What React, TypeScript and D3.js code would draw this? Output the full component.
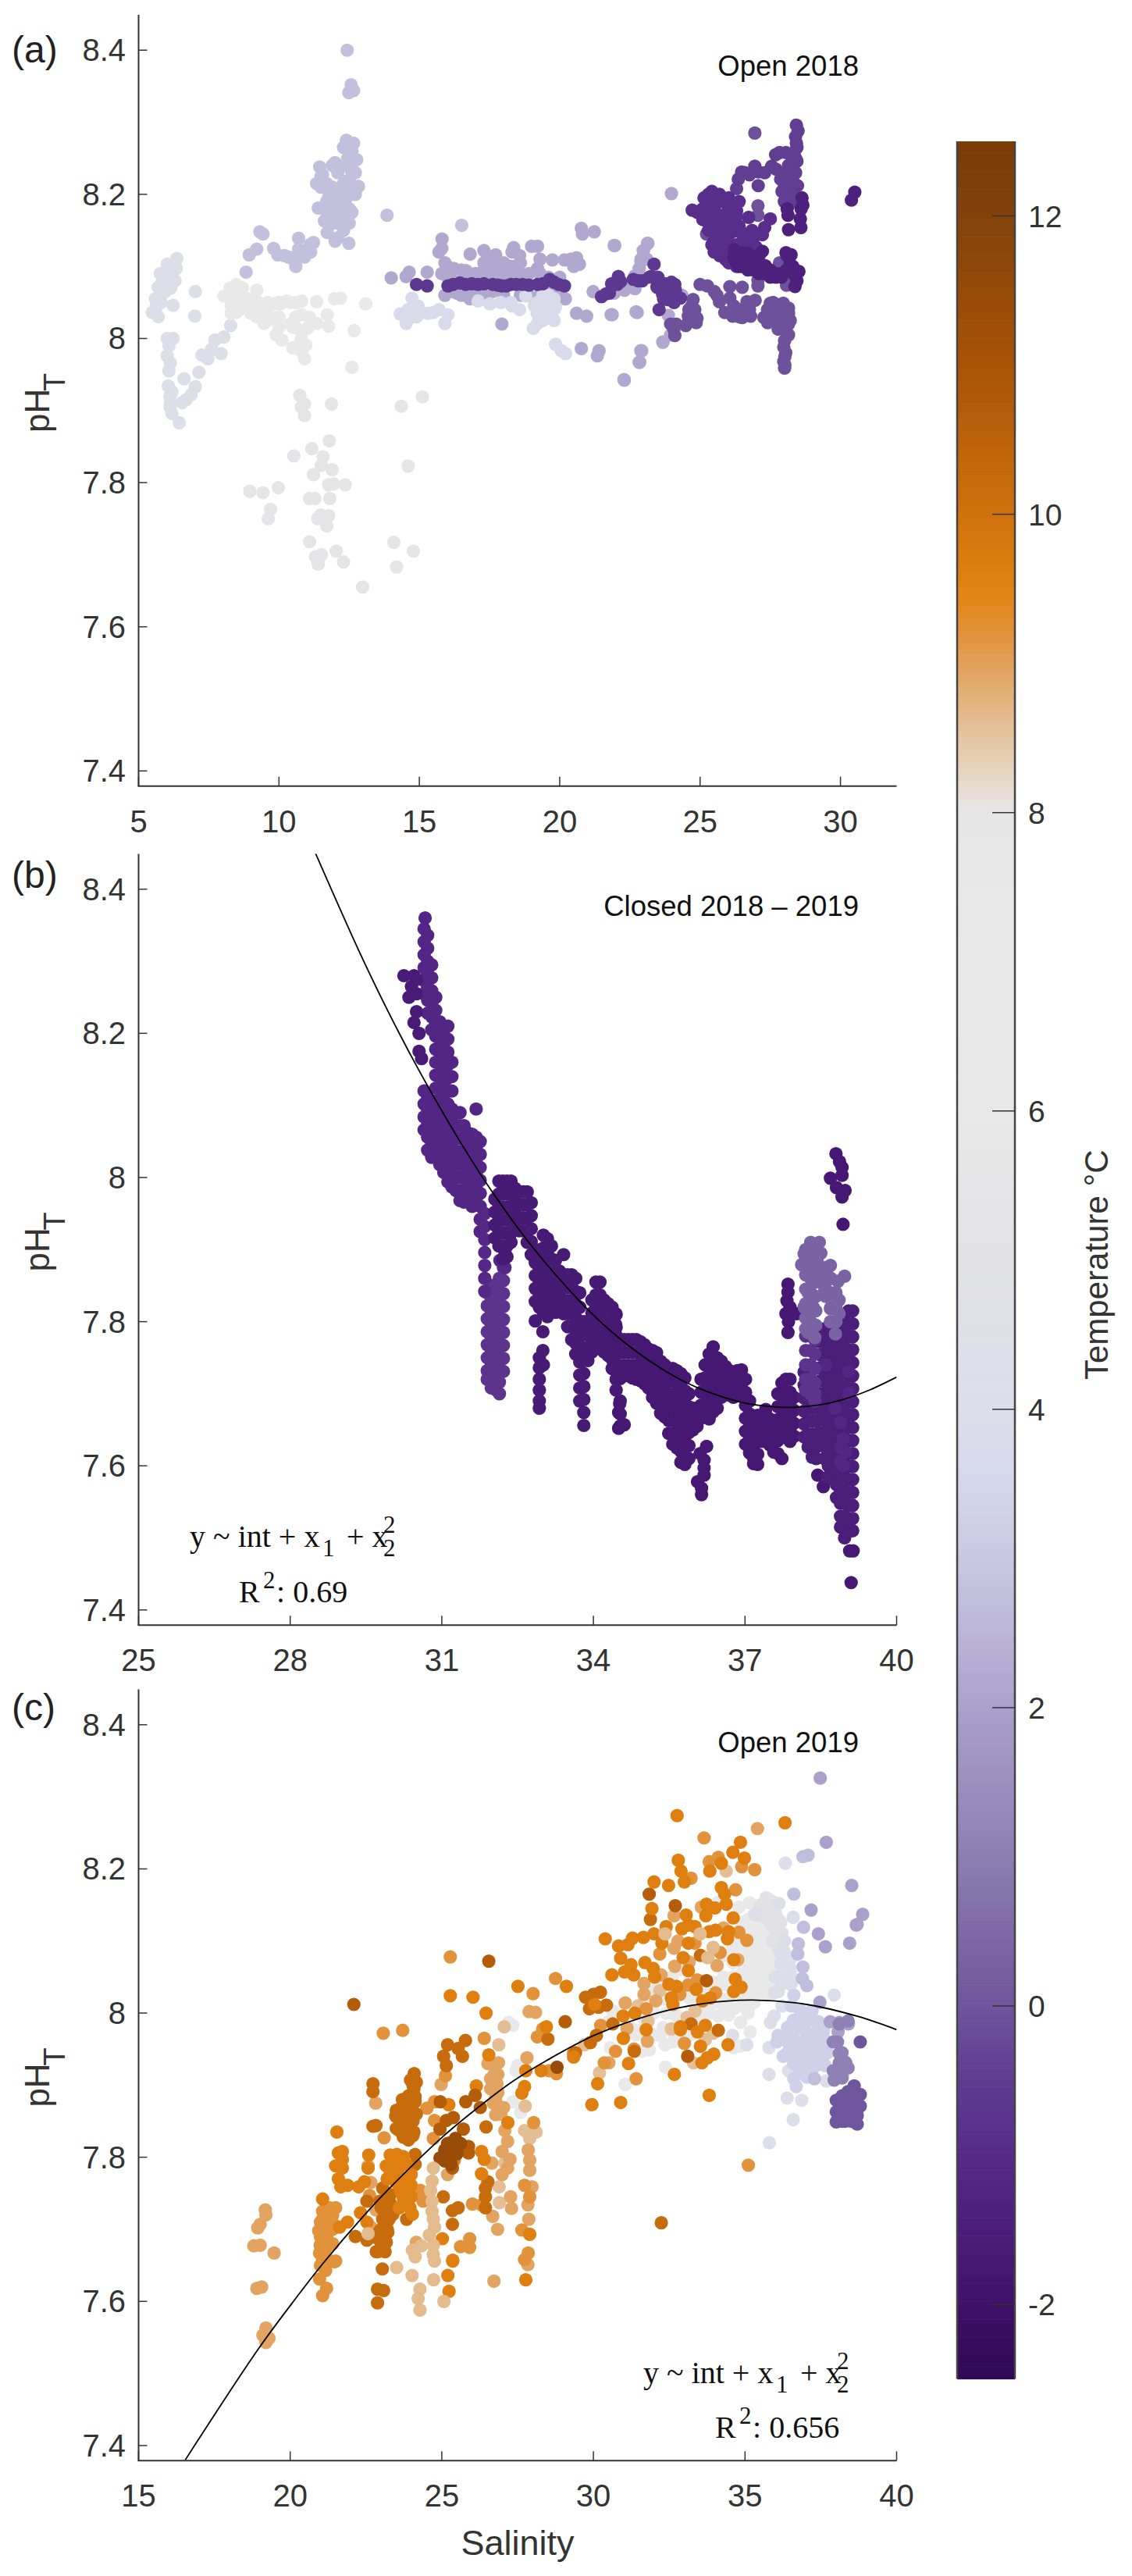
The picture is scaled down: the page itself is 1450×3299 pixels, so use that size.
import React from "react";
import * as d3 from "d3";

type P = [number, number];
type Col = [number, number[]];
const expand = (cols: Col[]): P[] => cols.flatMap(([s, phs]) => phs.map(ph => [s, ph] as P));

// ---------- tick labels ----------
const phTicks = [7.4, 7.6, 7.8, 8, 8.2, 8.4];
const xTicksA = [5, 10, 15, 20, 25, 30];
const xTicksB = [25, 28, 31, 34, 37, 40];
const xTicksC = [15, 20, 25, 30, 35, 40];
const cbTicks = [-2, 0, 2, 4, 6, 8, 10, 12];
const cmapTemps = [-2.5, -2, -1.5, -1, -0.5, 0, 1, 2, 2.5, 3, 3.5, 4, 5, 6, 7, 8, 8.1, 8.5, 9, 9.2, 9.5, 10, 11, 12, 12.5];
const cmapColors = ["#300852", "#3f1068", "#4b1e7a", "#572a8a", "#5f3b91", "#6f559c", "#8d7eb2", "#aba0cb", "#bbb5d8", "#c9c8e2", "#d4d7ec", "#dcdee9", "#e2e2e6", "#e8e8e8", "#e9e9e9", "#e6e6e6", "#e6e0d8", "#e4c6a2", "#e3a05a", "#e2923a", "#e2820f", "#cf720d", "#a85306", "#83420a", "#7a3b08"];

// ---------- curves ----------
const curveB: P[] = [[28.5, 8.45], [29.35, 8.316], [29.94, 8.23], [30.53, 8.151], [31.3, 8.057], [31.95, 7.985], [32.8, 7.903], [33.72, 7.829], [34.31, 7.789], [34.82, 7.76], [35.34, 7.735], [35.85, 7.715], [36.37, 7.7], [36.88, 7.689], [37.4, 7.683], [37.91, 7.681], [38.43, 7.684], [38.94, 7.692], [39.46, 7.705], [40, 7.723]];
const curveC: P[] = [[16.54, 7.38], [18.9, 7.531], [20.0, 7.594], [21.07, 7.652], [22.45, 7.72], [23.3, 7.758], [25.02, 7.828], [26.5, 7.879], [27.37, 7.906], [28.45, 7.934], [30.13, 7.971], [32.1, 8.0], [33.6, 8.013], [35.23, 8.018], [37.03, 8.012], [38.75, 7.995], [40, 7.977]];

// ---------- panel (a) ----------
const aLeft: P[] = [[5.49, 8.036], [5.7, 8.03], [5.64, 8.048], [5.77, 8.09], [5.7, 8.071], [6.02, 8.103], [6.34, 8.097], [6.36, 8.111], [6.23, 8.082], [5.91, 8.078], [6.23, 8.046], [5.8, 8.06], [6.0, 8.09], [6.02, 8.0], [6.23, 8.0], [6.02, 7.976], [6.13, 7.966], [6.06, 7.934], [6.19, 7.926], [6.13, 7.911], [6.19, 7.896], [6.45, 7.883], [6.55, 7.911], [6.62, 7.944], [6.87, 7.922], [7.02, 7.933], [7.15, 7.953], [7.26, 7.977], [7.47, 7.972], [7.72, 7.998], [7.94, 7.979], [8.04, 8.002], [8.28, 8.018], [8.57, 8.059], [7.02, 8.065], [7.0, 8.031]];
const aLeftFill: Col[] = [[5.6, [8.04, 8.055]], [5.8, [8.075, 8.05]], [5.95, [8.09, 8.065]], [6.15, [8.085, 8.1, 8.07]], [6.3, [8.105, 8.08]], [6.08, [7.955, 7.99]], [6.12, [7.92, 7.905]], [6.7, [7.915]], [7.35, [7.975]], [7.6, [7.985]]];
const aGreyMid: P[] = [[8.04, 8.059], [8.26, 8.07], [8.47, 8.075], [8.47, 8.036], [8.68, 8.048], [9.21, 8.067], [9.21, 8.052], [9.53, 8.04], [9.47, 8.021], [9.85, 8.029], [9.81, 8.048], [10.28, 8.052], [10.05, 8.048], [10.81, 8.052], [11.34, 8.051], [11.98, 8.055], [12.19, 8.056], [13.09, 8.048], [11.72, 8.033], [11.77, 8.017], [11.34, 8.021], [11.09, 8.029], [10.81, 8.033], [10.49, 8.016], [11.02, 8.014], [10.11, 7.998], [10.49, 7.987], [10.96, 7.991], [10.81, 7.982], [10.91, 7.972], [12.68, 8.011], [12.6, 7.96], [8.7, 8.07], [8.9, 8.055], [9.0, 8.035], [9.9, 8.005], [10.0, 8.015]];
const aGreyFill: Col[] = [[8.3, [8.055, 8.045, 8.035]], [8.6, [8.065, 8.04]], [8.9, [8.045]], [9.2, [8.045, 8.03]], [9.6, [8.05, 8.025]], [10.0, [8.05, 8.03]], [10.4, [8.05, 8.02]], [10.6, [8.05, 8.03, 8.015]], [10.8, [8.01, 8.0]], [10.7, [7.99]]];
const aGreyLow: P[] = [[10.74, 7.921], [10.91, 7.909], [10.8, 7.905], [10.91, 7.893], [11.87, 7.909], [14.36, 7.906], [15.11, 7.919], [14.6, 7.823], [11.79, 7.858], [11.17, 7.847], [10.53, 7.837], [11.57, 7.836], [11.51, 7.824], [11.23, 7.811], [11.89, 7.818], [11.77, 7.797], [12.36, 7.797], [11.95, 7.798], [8.96, 7.788], [9.43, 7.786], [9.98, 7.793], [11.09, 7.778], [11.28, 7.778], [11.81, 7.778], [9.7, 7.763], [9.62, 7.75], [11.38, 7.75], [11.49, 7.755], [11.77, 7.754], [11.7, 7.74], [11.09, 7.718], [14.09, 7.717], [14.79, 7.705], [12.04, 7.705], [11.3, 7.697], [11.51, 7.7], [11.4, 7.687], [12.3, 7.69], [14.19, 7.683], [12.98, 7.655]];
const aSpike: P[] = [[12.43, 8.4], [12.57, 8.352], [12.66, 8.344], [12.49, 8.341], [12.4, 8.275], [12.66, 8.271], [12.51, 8.257], [12.77, 8.248], [12.0, 8.244], [11.45, 8.238], [12.72, 8.23], [11.55, 8.227], [12.09, 8.234], [12.83, 8.211], [11.34, 8.215], [12.4, 8.215], [11.77, 8.211], [12.72, 8.2], [11.77, 8.196], [12.0, 8.189], [11.4, 8.181], [12.55, 8.177], [11.87, 8.17], [11.62, 8.163], [12.4, 8.167], [11.72, 8.147], [12.0, 8.135], [12.49, 8.132], [12.2, 8.2], [12.45, 8.25], [12.35, 8.19], [13.85, 8.171], [16.51, 8.157], [9.32, 8.148], [9.43, 8.145], [9.21, 8.124], [8.94, 8.116], [8.83, 8.092], [9.81, 8.125], [9.96, 8.116], [10.34, 8.113], [10.7, 8.139], [10.7, 8.124], [10.6, 8.1], [10.91, 8.113], [11.23, 8.133], [11.13, 8.12]];
const aSpikeFill: Col[] = [[11.5, [8.225, 8.21]], [11.7, [8.215, 8.19, 8.175]], [11.9, [8.24, 8.21, 8.19, 8.16]], [12.1, [8.23, 8.205, 8.18, 8.16, 8.14]], [12.3, [8.265, 8.24, 8.215, 8.19, 8.17, 8.15]], [12.5, [8.27, 8.245, 8.22, 8.2, 8.18, 8.16]], [12.6, [8.26, 8.23, 8.2, 8.175]], [10.2, [8.115]], [10.5, [8.11]], [10.85, [8.12]], [11.1, [8.13]]];
const aMidLight: P[] = [[14.32, 8.034], [14.53, 8.021], [14.75, 8.03], [15.06, 8.036], [15.49, 8.036], [16.02, 8.033], [15.91, 8.021], [14.74, 8.056], [14.95, 8.045], [17.09, 8.052], [17.51, 8.048], [18.26, 8.05], [18.79, 8.059], [19.1, 8.045], [19.43, 8.052], [19.53, 8.036], [19.21, 8.021], [19.85, 8.044], [19.85, 7.992], [20.06, 7.983], [20.21, 7.979], [19.4, 8.025], [19.06, 8.014], [18.57, 8.04], [19.6, 8.06], [19.3, 8.035]];
const aMidLightFill: Col[] = [[19.4, [8.06, 8.045, 8.03]], [19.6, [8.05, 8.035]], [19.8, [8.055, 8.04, 8.025]], [19.2, [8.05, 8.035]], [18.3, [8.045]], [17.9, [8.05]], [14.6, [8.03, 8.04]], [15.3, [8.035]], [15.7, [8.04]], [14.9, [8.03]]];
const aMidMedium: P[] = [[14.53, 8.086], [17.3, 8.122], [17.72, 8.116], [18.36, 8.126], [19.0, 8.128], [19.21, 8.128], [16.81, 8.117], [15.81, 8.138], [15.7, 8.12], [15.91, 8.105], [16.23, 8.097], [16.66, 8.094], [17.3, 8.105], [17.62, 8.097], [18.15, 8.101], [18.57, 8.115], [17.19, 8.082], [17.75, 8.085], [18.26, 8.086], [16.87, 8.063], [17.1, 8.067], [17.5, 8.082], [16.34, 8.063], [15.91, 8.06], [19.21, 8.097], [20.6, 8.112], [19.74, 8.109], [20.17, 8.109], [20.7, 8.103], [20.77, 8.153], [20.81, 8.145], [21.23, 8.148], [21.94, 8.129], [23.13, 8.132], [22.98, 8.122], [22.83, 8.097], [14.0, 8.084], [14.64, 8.092], [15.28, 8.092], [18.5, 8.09], [17.94, 8.02], [20.6, 8.035], [20.96, 8.031], [21.83, 8.033], [22.72, 8.037], [20.77, 7.986], [21.4, 7.983], [21.34, 7.976], [22.3, 7.942], [22.89, 7.983], [22.83, 7.967], [23.68, 7.995], [21.19, 8.065], [20.2, 8.055], [21.96, 8.129], [23.14, 8.132], [22.98, 8.122], [22.89, 8.107], [23.1, 8.11], [22.68, 8.087], [22.31, 8.067], [22.68, 8.069], [21.94, 8.063], [23.98, 8.201], [22.76, 8.036], [21.87, 8.033], [23.87, 8.032], [23.95, 8.005], [23.67, 7.995], [22.92, 7.983], [22.85, 7.967], [22.29, 7.943], [24.35, 8.06]];
const aMidMediumFill: Col[] = [[15.8, [8.125, 8.09]], [16, [8.1, 8.085]], [16.2, [8.095, 8.08, 8.065]], [16.5, [8.095, 8.08, 8.06]], [16.8, [8.09, 8.07, 8.055]], [17, [8.09, 8.06]], [17.3, [8.095, 8.065, 8.055]], [17.6, [8.11, 8.09, 8.065]], [17.8, [8.105, 8.085]], [18, [8.105, 8.09, 8.06]], [18.3, [8.12, 8.1, 8.09]], [18.6, [8.105, 8.09, 8.06]], [18.9, [8.09, 8.06]], [19.3, [8.11, 8.09, 8.06]], [19.6, [8.085, 8.065]], [20, [8.06, 8.085]], [20.4, [8.11]], [20.5, [8.1]], [22.5, [8.075]], [22.9, [8.11]]];
const aChain: P[] = [[14.9, 8.075], [15.28, 8.073], [16.02, 8.073], [16.45, 8.077], [16.87, 8.076], [17.09, 8.075], [17.62, 8.075], [17.94, 8.073], [18.26, 8.075], [18.68, 8.075], [19.21, 8.075], [19.64, 8.082], [19.96, 8.075], [20.17, 8.073], [21.49, 8.058], [21.77, 8.063], [22.09, 8.086], [22.05, 8.075], [22.62, 8.082], [22.94, 8.08], [23.36, 8.103], [23.26, 8.086], [23.47, 8.071], [23.19, 8.085], [22.17, 8.079], [21.85, 8.076], [23.47, 8.072], [23.75, 8.076], [23.98, 8.078], [23.66, 8.062], [24.12, 8.067], [23.84, 8.054], [24.07, 8.05], [24.3, 8.056], [23.54, 8.04]];
const aChainFill: Col[] = [[16.2, [8.075]], [16.65, [8.075]], [17.3, [8.076]], [17.8, [8.074]], [18.1, [8.073]], [18.45, [8.075]], [18.9, [8.074]], [19.4, [8.076]], [19.8, [8.078]], [23.7, [8.07, 8.055]], [23.9, [8.065, 8.055]], [24.1, [8.06, 8.075]], [23.5, [8.085]], [21.65, [8.062]], [22.8, [8.08]]];
const aLowerBand: P[] = [[24.75, 8.054], [24.81, 8.04], [24.58, 8.031], [24.89, 8.028], [24.49, 8.018], [24.86, 8.022], [23.95, 8.02], [24.15, 8.02], [24.07, 8.013], [24.1, 8.004], [25.0, 8.075], [25.26, 8.073], [25.51, 8.065], [25.69, 8.051], [26.06, 8.072], [26.5, 8.071], [26.06, 8.056], [25.88, 8.036], [26.16, 8.031], [26.3, 8.038], [26.67, 8.051], [26.96, 8.053], [26.5, 8.029], [26.8, 8.031], [26.76, 8.04], [27.5, 8.049], [27.96, 8.049], [28.15, 8.042], [27.27, 8.029], [27.41, 8.022], [27.69, 8.033], [28.21, 8.025], [27.78, 8.013], [28.1, 8.007], [28.01, 7.997], [27.98, 7.988], [28.05, 7.98], [27.98, 7.968], [28.01, 7.959], [27.06, 8.081], [27.06, 8.073], [28.08, 8.074], [27.83, 8.105], [27.06, 8.184], [27.06, 8.171], [25.23, 8.145], [26.95, 8.285], [27.75, 8.025], [27.9, 8.035]];
const aLowerFill: Col[] = [[27.4, [8.04, 8.03]], [27.6, [8.05, 8.035, 8.025]], [27.8, [8.04, 8.03, 8.02]], [28.0, [8.045, 8.03, 8.015]], [28.15, [8.035, 8.02, 8.005]], [26.2, [8.045, 8.035]], [26.4, [8.04, 8.03]], [26.7, [8.045, 8.035]], [25.6, [8.06]], [24.7, [8.045, 8.03]], [24.6, [8.04, 8.025]], [24.8, [8.03]], [28.02, [7.975, 7.963]]];
const aUpperRight: P[] = [[28.43, 8.296], [28.49, 8.288], [28.43, 8.271], [28.45, 8.265], [28.35, 8.258], [28.06, 8.258], [27.83, 8.258], [27.69, 8.255], [28.45, 8.246], [27.55, 8.239], [26.95, 8.239], [27.08, 8.231], [26.48, 8.231], [26.76, 8.227], [26.36, 8.221], [27.07, 8.212], [26.3, 8.208], [28.24, 8.231], [27.87, 8.221], [28.2, 8.219], [28.47, 8.212], [27.92, 8.204], [28.15, 8.202], [28.29, 8.192], [27.7, 8.235], [28.05, 8.22], [28.3, 8.25]];
const aUpperFill: Col[] = [[28.0, [8.23, 8.21, 8.19]], [28.15, [8.24, 8.22, 8.2, 8.185]], [28.3, [8.22, 8.2]], [28.4, [8.28, 8.25, 8.23]], [26.6, [8.23]], [27.3, [8.23]]];
const aCluster: P[] = [[26.73, 8.168], [27.5, 8.166], [27.3, 8.154], [27.22, 8.144], [25.42, 8.204], [25.14, 8.195], [25.69, 8.2], [25.37, 8.192], [26.02, 8.195], [26.39, 8.19], [24.72, 8.178], [25.0, 8.177], [25.46, 8.177], [25.93, 8.174], [26.3, 8.177], [25.14, 8.166], [25.56, 8.166], [25.83, 8.159], [26.39, 8.156], [26.85, 8.15], [25.65, 8.145], [26.11, 8.147], [26.57, 8.145], [25.42, 8.13], [25.74, 8.13], [25.69, 8.119], [25.92, 8.116], [26.11, 8.127], [26.76, 8.134], [26.99, 8.127], [26.02, 8.105], [26.3, 8.11], [26.8, 8.12], [25.3, 8.15], [25.55, 8.135], [25.9, 8.14]];
const aClusterFill: Col[] = [[24.9, [8.175]], [25.1, [8.18, 8.165]], [25.3, [8.2, 8.18, 8.16]], [25.5, [8.2, 8.18, 8.16, 8.135, 8.12]], [25.7, [8.19, 8.17, 8.15, 8.135, 8.115]], [25.9, [8.19, 8.16, 8.14, 8.125, 8.11]], [26.1, [8.185, 8.16, 8.15, 8.13, 8.11]], [26.3, [8.17, 8.15, 8.13, 8.11, 8.1]], [26.5, [8.145, 8.13]], [26.7, [8.14, 8.125]], [26.9, [8.14, 8.12]]];
const aDark: P[] = [[28.63, 8.195], [28.66, 8.185], [28.1, 8.18], [28.13, 8.171], [28.57, 8.166], [28.59, 8.154], [28.15, 8.151], [30.51, 8.203], [30.39, 8.192], [28.6, 8.18], [26.23, 8.123], [26.2, 8.112], [26.48, 8.119], [26.71, 8.118], [27.22, 8.121], [26.39, 8.1], [26.67, 8.103], [26.95, 8.105], [27.04, 8.094], [27.32, 8.101], [27.5, 8.094], [27.78, 8.089], [28.06, 8.119], [28.24, 8.116], [28.2, 8.103], [28.06, 8.094], [28.52, 8.093], [28.29, 8.094], [28.45, 8.08], [28.38, 8.072], [27.2, 8.098], [27.95, 8.09]];
const aDarkFill: Col[] = [[26.3, [8.12, 8.105]], [26.5, [8.115, 8.1]], [26.7, [8.115, 8.1, 8.095]], [26.9, [8.11, 8.095]], [27.1, [8.115, 8.1, 8.09]], [27.3, [8.1, 8.09]], [27.5, [8.095, 8.085]], [27.7, [8.09, 8.085]], [27.9, [8.09, 8.085]], [28.1, [8.115, 8.095]], [28.3, [8.1, 8.09]]];

// ---------- panel (b) ----------
const bLeftDots: P[] = [[30.25, 8.28], [30.45, 8.28], [30.5, 8.275], [30.4, 8.265], [30.35, 8.25], [30.5, 8.255], [30.5, 8.23], [30.45, 8.215], [30.55, 8.2], [30.55, 8.175], [30.6, 8.165]];
const bSpikeCols: Col[] = [
  [30.67, [8.36]], [30.65, [8.345, 8.327, 8.309, 8.291, 8.273, 8.255, 8.12, 8.102, 8.084, 8.066]],
  [30.72, [8.336, 8.318, 8.3, 8.282, 8.264, 8.246, 8.228, 8.11, 8.092, 8.074, 8.056, 8.038]],
  [30.8, [8.295, 8.277, 8.259, 8.241, 8.223, 8.205, 8.1, 8.082, 8.064, 8.046, 8.028]],
  [30.88, [8.25, 8.232, 8.214, 8.196, 8.178, 8.16, 8.142, 8.124, 8.106, 8.088, 8.07, 8.052, 8.034]],
  [30.96, [8.216, 8.198, 8.18, 8.162, 8.144, 8.126, 8.108, 8.09, 8.072, 8.054, 8.036, 8.018]],
  [31.04, [8.205, 8.187, 8.169, 8.151, 8.133, 8.115, 8.097, 8.079, 8.061, 8.043, 8.025, 8.007]],
  [31.12, [8.21, 8.192, 8.174, 8.156, 8.138, 8.12, 8.102, 8.084, 8.066, 8.048, 8.03, 8.012, 7.994]],
  [31.2, [8.16, 8.14, 8.12, 8.095, 8.077, 8.059, 8.041, 8.023, 8.005, 7.987]],
  [31.28, [8.09, 8.072, 8.054, 8.036, 8.018, 8, 7.982]],
  [31.36, [8.09, 8.072, 8.054, 8.036, 8.018, 8, 7.982, 7.968]],
  [31.44, [8.072, 8.054, 8.036, 8.018, 8, 7.982, 7.966]],
  [31.52, [8.062, 8.044, 8.026, 8.008, 7.99, 7.972]],
  [31.6, [8.06, 8.042, 8.024, 8.006, 7.988, 7.97, 7.96]],
  [31.68, [8.095, 8.056, 8.038, 8.02, 8.002, 7.984, 7.966]],
  [31.76, [8.05, 8.032, 8.014, 7.996, 7.978, 7.96, 7.942, 7.925]],
];
const bColTop32: Col[] = [[31.85, [7.95, 7.932, 7.914, 7.896, 7.878, 7.86, 7.842]], [32.15, [7.885]], [32.25, [7.895, 7.875]]];
const bCol32: Col[] = [
  [31.9, [7.84, 7.822, 7.804, 7.786, 7.768, 7.75, 7.732, 7.72]],
  [31.98, [7.85, 7.832, 7.814, 7.796, 7.778, 7.76, 7.742, 7.724, 7.708]],
  [32.06, [7.85, 7.832, 7.814, 7.796, 7.778, 7.76, 7.742, 7.724, 7.706]],
  [32.14, [7.86, 7.842, 7.824, 7.806, 7.788, 7.77, 7.752, 7.734, 7.716, 7.7]],
  [32.22, [7.875, 7.857, 7.839, 7.821, 7.803, 7.785, 7.767, 7.749, 7.731]],
];
const bBandCols: Col[] = [
  [32.05, [7.97, 7.952, 7.934, 7.916]], [32.13, [7.995, 7.977, 7.959, 7.941, 7.923, 7.905]], [32.21, [7.995, 7.977, 7.959, 7.941, 7.923, 7.905, 7.887]],
  [32.29, [7.995, 7.977, 7.959, 7.941, 7.923, 7.905, 7.89]], [32.37, [7.995, 7.977, 7.959, 7.941, 7.923, 7.91]], [32.45, [7.985, 7.967, 7.949, 7.931]],
  [32.53, [7.98, 7.962, 7.944, 7.926]], [32.61, [7.98, 7.962, 7.944, 7.926]], [32.69, [7.98, 7.962, 7.944, 7.926, 7.91]], [32.77, [7.965, 7.947, 7.929, 7.911, 7.893]],
  [32.85, [7.9, 7.882, 7.864, 7.846, 7.828, 7.801]], [32.93, [7.89, 7.872, 7.854, 7.836, 7.82, 7.75, 7.736, 7.72, 7.705, 7.69, 7.68]], [33.0, [7.786, 7.76]],
  [33.01, [7.92, 7.902, 7.884, 7.866, 7.848, 7.83, 7.812, 7.74]], [33.09, [7.915, 7.897, 7.879, 7.861, 7.843, 7.825, 7.807]], [33.17, [7.905, 7.887, 7.869, 7.851, 7.833, 7.815]],
  [33.25, [7.885, 7.867, 7.849, 7.831, 7.813]], [33.33, [7.87, 7.852, 7.834, 7.82]], [33.41, [7.893, 7.865, 7.847, 7.829, 7.811]], [33.49, [7.865, 7.847, 7.829, 7.811, 7.793]],
  [33.57, [7.865, 7.847, 7.829, 7.811, 7.793, 7.775]], [33.65, [7.86, 7.842, 7.824, 7.806, 7.788, 7.77, 7.755]], [33.73, [7.84, 7.82, 7.8, 7.78, 7.762, 7.744, 7.726, 7.708, 7.69]],
  [33.81, [7.8, 7.782, 7.764, 7.746, 7.728, 7.71, 7.692, 7.674, 7.656]], [33.89, [7.8, 7.782, 7.764, 7.746]], [33.97, [7.83, 7.812, 7.794, 7.776, 7.758]],
  [34.05, [7.855, 7.837, 7.819, 7.801, 7.783, 7.765]], [34.13, [7.855, 7.837, 7.819, 7.801, 7.783, 7.765]], [34.21, [7.83, 7.812, 7.794, 7.776, 7.758]],
  [34.29, [7.825, 7.807, 7.789, 7.771, 7.753]], [34.37, [7.82, 7.802, 7.784, 7.766, 7.748, 7.735]], [34.45, [7.81, 7.792, 7.774, 7.756, 7.738, 7.72, 7.705]],
];
const bStreamCols: Col[] = [
  [34.53, [7.775, 7.757, 7.739, 7.721, 7.69, 7.672, 7.655]], [34.61, [7.775, 7.757, 7.739, 7.725, 7.657]], [34.69, [7.775, 7.757, 7.739, 7.725]], [34.77, [7.775, 7.757, 7.739, 7.722]],
  [34.85, [7.775, 7.757, 7.739, 7.72]], [34.93, [7.772, 7.754, 7.736, 7.718]], [35.01, [7.768, 7.75, 7.732, 7.714]], [35.09, [7.762, 7.744, 7.726, 7.708]],
  [35.17, [7.76, 7.742, 7.724, 7.706, 7.695]], [35.25, [7.757, 7.739, 7.721, 7.703, 7.687]], [35.33, [7.745, 7.727, 7.709, 7.691, 7.673]], [35.41, [7.74, 7.722, 7.704, 7.686, 7.668]],
  [35.49, [7.735, 7.717, 7.699, 7.681, 7.663, 7.645]], [35.57, [7.735, 7.717, 7.699, 7.681, 7.663, 7.645, 7.63]], [35.65, [7.732, 7.714, 7.696, 7.678, 7.66, 7.642, 7.625]],
  [35.73, [7.728, 7.71, 7.692, 7.674, 7.656, 7.638, 7.62, 7.605]], [35.81, [7.722, 7.704, 7.686, 7.668, 7.65, 7.632, 7.614, 7.602]], [35.89, [7.7, 7.682, 7.664, 7.646, 7.628, 7.61]],
  [35.97, [7.68, 7.665, 7.65]], [36.05, [7.68, 7.665, 7.655]], [36.13, [7.72, 7.702, 7.684, 7.666]], [36.21, [7.74, 7.722, 7.704, 7.686, 7.668]],
  [36.29, [7.755, 7.737, 7.719, 7.701, 7.683, 7.665]], [36.37, [7.765, 7.747, 7.729, 7.711, 7.693, 7.675]], [36.45, [7.75, 7.732, 7.714, 7.696, 7.68]], [36.53, [7.745, 7.727, 7.709, 7.695]],
  [36.61, [7.738, 7.72, 7.702]], [36.69, [7.732, 7.714, 7.698]], [36.77, [7.73, 7.712, 7.695]], [36.85, [7.732, 7.714, 7.697]], [36.93, [7.733, 7.715, 7.697]],
  [37.01, [7.72, 7.702, 7.684, 7.666, 7.648, 7.63]], [37.09, [7.69, 7.672, 7.654, 7.636, 7.618]], [37.17, [7.665, 7.647, 7.629, 7.611, 7.603]], [37.25, [7.67, 7.652, 7.634, 7.616, 7.602]],
  [37.33, [7.67, 7.652, 7.634]], [37.41, [7.678, 7.66, 7.642]], [37.49, [7.665, 7.647, 7.629]], [37.57, [7.655, 7.637, 7.619]], [37.65, [7.7, 7.682, 7.664, 7.635, 7.617]],
  [37.73, [7.715, 7.697, 7.679, 7.661, 7.643, 7.61]], [37.81, [7.72, 7.702, 7.684, 7.666, 7.648]], [37.89, [7.72, 7.702, 7.684, 7.666, 7.648, 7.634]], [37.97, [7.695, 7.677, 7.659, 7.641]],
];
const bIslands: P[] = [[37.85, 7.852], [37.85, 7.841], [37.83, 7.829], [37.81, 7.811], [38.02, 7.811], [37.86, 7.8], [37.85, 7.785], [37.89, 7.82], [37.93, 7.811], [36.24, 7.627], [36.11, 7.617], [36.19, 7.608], [36.19, 7.597], [36.19, 7.587], [36.06, 7.578], [36.14, 7.569], [36.14, 7.56], [34.44, 7.811], [34.44, 7.796], [34.44, 7.782], [34.52, 7.686], [34.5, 7.674], [34.59, 7.657], [34.5, 7.652], [38.8, 8.033], [38.87, 8.022], [38.92, 8.014], [38.92, 8.003], [38.69, 7.999], [38.81, 7.986], [38.98, 7.982], [38.92, 7.973], [38.94, 7.935], [38.44, 7.587], [38.55, 7.571], [39.07, 7.482], [39.14, 7.482], [39.1, 7.438]];
const bBigCols: Col[] = [
  [38.17, [7.73, 7.712, 7.694, 7.676, 7.658, 7.64]], [38.25, [7.68, 7.662, 7.644, 7.626]], [38.33, [7.68, 7.662, 7.644, 7.626, 7.612]], [38.41, [7.68, 7.662, 7.644, 7.626, 7.61]],
  [38.49, [7.79, 7.772, 7.754, 7.736, 7.718, 7.7, 7.682, 7.664, 7.646, 7.628]], [38.57, [7.79, 7.772, 7.754, 7.736, 7.718, 7.7, 7.682, 7.664, 7.646, 7.628, 7.61]],
  [38.65, [7.78, 7.762, 7.744, 7.726, 7.708, 7.69, 7.672, 7.654, 7.636, 7.618, 7.6, 7.585]], [38.73, [7.78, 7.762, 7.744, 7.726, 7.708, 7.69, 7.672, 7.654, 7.636, 7.618, 7.6, 7.582]],
  [38.81, [7.79, 7.772, 7.754, 7.736, 7.718, 7.7, 7.682, 7.664, 7.646, 7.628, 7.61, 7.592, 7.574, 7.556]],
  [38.89, [7.8, 7.782, 7.764, 7.746, 7.728, 7.71, 7.692, 7.674, 7.656, 7.638, 7.62, 7.602, 7.584, 7.566, 7.548, 7.53, 7.515]],
  [38.97, [7.8, 7.782, 7.764, 7.746, 7.728, 7.71, 7.692, 7.674, 7.656, 7.638, 7.62, 7.602, 7.584, 7.566, 7.548, 7.53, 7.512, 7.5]],
  [39.05, [7.815, 7.797, 7.779, 7.761, 7.743, 7.725, 7.707, 7.689, 7.671, 7.653, 7.635, 7.617, 7.599, 7.581, 7.563, 7.545, 7.527, 7.509]],
  [39.13, [7.815, 7.797, 7.779, 7.761, 7.743, 7.725, 7.707, 7.689, 7.671, 7.653, 7.635, 7.617, 7.599, 7.581, 7.563, 7.545, 7.527, 7.51]],
];
const bMidDark: P[] = [[39.05, 7.731], [39.05, 7.7], [38.89, 7.66], [38.94, 7.637], [38.99, 7.619], [38.89, 7.605], [38.95, 7.6], [38.9, 7.625], [38.78, 7.68], [38.6, 7.74]];
const bPatchCols: Col[] = [[38.2, [7.78, 7.76, 7.74, 7.72, 7.705]], [38.3, [7.78, 7.76, 7.74, 7.72, 7.7]], [38.38, [7.775, 7.755, 7.735, 7.715, 7.7, 7.69]]];
const bLight: P[] = [[38.17, 7.894], [38.38, 7.892], [38.45, 7.895], [38.12, 7.879], [38.25, 7.881], [38.43, 7.883], [38.69, 7.878], [38.27, 7.865], [38.5, 7.861], [38.97, 7.863], [38.84, 7.856], [38.25, 7.84], [38.58, 7.843], [38.74, 7.838], [38.86, 7.83], [38.17, 7.82], [38.35, 7.82], [38.69, 7.818], [38.86, 7.811], [38.25, 7.785], [38.69, 7.8], [38.79, 7.783], [38.3, 7.8], [38.38, 7.778], [38.2, 7.9], [38.3, 7.91], [38.47, 7.91]];
const bLightCols: Col[] = [[38.2, [7.885, 7.865, 7.845, 7.825, 7.805, 7.79]], [38.3, [7.9, 7.88, 7.86, 7.84, 7.82, 7.785]], [38.4, [7.895, 7.875, 7.855, 7.835, 7.815, 7.795]], [38.5, [7.895, 7.875, 7.855]], [38.6, [7.875, 7.855, 7.835]], [38.7, [7.86, 7.84, 7.82]], [38.8, [7.84, 7.82, 7.8]]];

// ---------- panel (c) ----------
const cT7: P[] = [[30.64, 8.003], [30.51, 7.988], [31.29, 7.978], [31.54, 7.976], [32.19, 7.969], [32.36, 7.956], [32.62, 7.96], [30.56, 7.952], [31.59, 7.947], [31.84, 7.949], [32.38, 7.925], [31.05, 7.901], [32.75, 7.996], [32.4, 8.0], [33.95, 8.014], [34.29, 8.01], [34.63, 8.006], [35.15, 8.01], [34.46, 7.997], [34.12, 7.996], [34.85, 7.987], [35.17, 7.974], [34.85, 7.954], [34.63, 7.952], [32.14, 8.039], [33.95, 8.043], [34.29, 8.05], [34.46, 8.039], [34.89, 8.05], [35.23, 8.043], [35.49, 8.043], [35.66, 8.035], [35.83, 8.05], [35.41, 8.068], [34.98, 8.071], [35.23, 8.086], [35.49, 8.09], [35.75, 8.093], [36.01, 8.087], [34.76, 8.097], [35.15, 8.111], [35.45, 8.108], [35.79, 8.071], [35.15, 8.057], [35.58, 8.057], [35.23, 8.028], [34.98, 8.028], [35.15, 8.153], [35.81, 8.156], [35.96, 8.124], [34.93, 8.126], [34.8, 8.147], [35.83, 8.111], [35.75, 8.118], [34.12, 8.154], [33.69, 8.003], [33.43, 7.988], [34.89, 8.079], [35.32, 8.071], [35.66, 8.075], [35.92, 8.061], [35.32, 8.05], [35.75, 8.039], [34.8, 8.03], [34.46, 8.021], [34.12, 8.021], [27.34, 7.983], [27.21, 7.987], [27.5, 7.927], [27.45, 7.92], [27.34, 7.877], [27.6, 7.862]];
const cT7Fill: Col[] = [[34.9, [8.12, 8.1, 8.085, 8.07, 8.055, 8.04, 8.025, 8.01]], [35.1, [8.13, 8.1, 8.085, 8.07, 8.04, 8.025, 8.0]], [35.3, [8.12, 8.105, 8.09, 8.075, 8.06, 8.045, 8.03, 8.015]], [35.5, [8.12, 8.105, 8.075, 8.06, 8.03]], [35.7, [8.11, 8.09, 8.06, 8.045, 8.025]], [35.9, [8.1, 8.08, 8.065, 8.045]], [34.6, [8.09, 8.07, 8.05, 8.03]], [34.3, [8.08, 8.04, 8.0]], [33.8, [8.04, 8.02, 8.0]], [33.5, [8.03, 8.0, 7.98]], [33.2, [8.05, 8.02, 7.99, 7.97]], [32.9, [8.06, 8.03, 7.99, 7.96]], [32.6, [8.05, 8.02, 8.0, 7.975]], [32.3, [8.05, 8.02, 7.98]], [32, [8.03, 8.0, 7.97]], [31.7, [8.02, 7.99]], [31.4, [8.0, 7.97]]];
const cT5: P[] = [[35.71, 8.133], [36.01, 8.138], [36.18, 8.126], [35.85, 8.125], [36.22, 8.111], [36.0, 8.115]];
const cT5Fill: Col[] = [[35.9, [8.14, 8.12, 8.1, 8.155]], [36.1, [8.13, 8.1, 8.09]], [35.5, [8.135, 8.15]], [35.7, [8.145, 8.16]]];
const cT4: P[] = [[36.12, 8.152], [35.32, 8.137], [36.59, 8.133], [36.33, 8.208], [37.94, 8.025], [36.18, 8.082], [36.39, 8.079], [36.48, 8.062], [36.18, 8.068], [36.22, 8.041], [36.52, 8.041], [35.96, 8.028], [36.22, 8.01], [35.84, 7.987], [35.96, 7.996], [35.79, 7.952], [35.79, 7.915], [34.59, 7.969], [35.06, 7.956], [36.39, 7.882], [36.87, 7.879], [37.68, 7.906], [36.44, 7.92], [35.8, 7.82], [36.59, 7.852]];
const cT4Fill: Col[] = [[36.3, [8.1, 8.085, 8.07, 8.05]], [36.5, [8.075, 8.055, 8.04]], [36.1, [8.05, 8.03]], [36.0, [8.05]]];
const cT33: P[] = [[36.91, 8.001], [37.21, 8.003], [37.42, 7.988], [37.04, 7.988], [36.52, 7.983], [36.09, 7.969], [36.05, 7.96], [36.35, 7.967], [36.69, 7.96], [37.04, 7.967], [37.38, 7.96], [37.59, 7.976], [37.64, 7.956], [36.52, 7.945], [36.87, 7.941], [37.29, 7.945], [37.72, 7.945], [36.26, 7.94], [36.65, 7.938], [36.95, 7.932], [37.34, 7.927], [37.64, 7.927], [37.04, 7.911], [36.61, 7.909], [36.69, 7.898], [36.61, 8.025], [36.52, 8.01], [38.24, 7.916], [38.6, 7.875]];
const cT33Fill: Col[] = [[36.4, [7.98, 7.96, 7.945]], [36.6, [7.99, 7.975, 7.95, 7.93]], [36.8, [8.005, 7.98, 7.96, 7.94, 7.92]], [37, [7.995, 7.975, 7.955, 7.935, 7.92]], [37.2, [7.99, 7.97, 7.95, 7.93, 7.915]], [37.4, [7.975, 7.955, 7.935]], [37.6, [7.965, 7.945, 7.93]]];
const cT27: P[] = [[36.61, 8.165], [36.93, 8.119], [36.76, 8.096], [36.74, 8.082], [36.91, 8.064], [36.89, 8.048], [37.04, 8.038], [36.91, 8.217], [37.08, 8.219], [37.29, 7.909]];
const cT2: P[] = [[37.68, 8.237], [38.52, 8.177], [37.18, 8.143], [37.42, 8.11], [37.65, 8.092], [38.45, 8.097], [38.67, 8.122], [37.47, 8.015], [37.81, 7.988], [38.11, 7.987], [38.41, 7.985], [38.07, 7.974], [37.48, 8.326], [38.88, 8.137], [38.7, 8.123]];
const cT1: P[] = [[38.11, 7.985], [38.4, 7.989], [37.91, 7.96], [38.11, 7.944], [38.3, 7.932], [37.91, 7.92], [38.4, 7.924], [38.11, 7.931], [38.32, 7.931], [37.94, 7.907], [38.2, 7.945], [38.2, 7.925], [38.2, 7.91], [38.05, 7.96]];
const cT0: P[] = [[38.8, 7.96], [38.6, 7.899], [38.8, 7.887], [38.4, 7.891], [38.01, 7.879], [38.3, 7.879], [38.8, 7.871], [38.01, 7.863], [38.4, 7.867], [38.7, 7.858], [38.01, 7.849], [38.3, 7.85], [38.7, 7.846], [38.5, 7.85], [38.1, 7.875], [38.1, 7.855], [38.2, 7.885], [38.2, 7.865], [38.2, 7.85], [38.5, 7.885], [38.5, 7.87], [38.6, 7.885], [38.6, 7.865], [38.6, 7.85]];
const cTanUnder: P[] = [[31.47, 8.01], [31.8, 7.989], [29.7, 7.956], [30.2, 7.917], [32.36, 8.11], [33.52, 8.11], [33.95, 8.091], [33.77, 8.077], [32.19, 8.031], [33.09, 7.994], [33.35, 8.003], [33.3, 7.931], [32.57, 7.978], [33.69, 7.963], [33.95, 7.972], [34.38, 8.197], [27.06, 7.981], [26.88, 7.956], [27.75, 7.871], [27.73, 7.837], [28.11, 7.835], [27.9, 7.826], [27.08, 7.792], [26.89, 7.759], [26.9, 7.737]];
const cT115: P[] = [[24.94, 7.799], [25.19, 7.804], [25.19, 7.819], [25.45, 7.826], [25.36, 7.812], [25.62, 7.819], [25.28, 7.794], [28.8, 7.925], [25.1, 7.81], [25.1, 7.795], [25.3, 7.82], [25.3, 7.805], [25.3, 7.79], [25.5, 7.815], [25.5, 7.805]];
const cT107: P[] = [[25.71, 7.839], [25.88, 7.815], [25.88, 7.806], [25.35, 7.785], [24.94, 7.839], [25.15, 7.851], [25.38, 7.855], [25.79, 7.877], [26.1, 7.886], [26.27, 7.869], [26.55, 8.072], [22.1, 8.012], [24.95, 7.877], [31.84, 8.165], [32.7, 8.149], [29.07, 7.988], [33.11, 7.94], [33.73, 8.045]];
const cT102: P[] = [[22.73, 7.902], [22.73, 7.891], [22.73, 7.843], [22.83, 7.844], [24.09, 7.916], [23.97, 7.907], [24.16, 7.904], [24.08, 7.895], [24.12, 7.884], [23.82, 7.88], [24.12, 7.877], [23.65, 7.868], [23.99, 7.869], [23.48, 7.857], [23.82, 7.859], [24.16, 7.86], [23.65, 7.85], [23.99, 7.848], [23.6, 7.837], [24.08, 7.835], [23.73, 7.828], [23.9, 7.824], [24.12, 7.804], [24.12, 7.79], [23.05, 7.757], [23.3, 7.748], [22.53, 7.739], [22.96, 7.739], [23.3, 7.736], [23.22, 7.725], [23.39, 7.721], [23.26, 7.714], [23.05, 7.714], [22.15, 7.69], [22.53, 7.685], [22.79, 7.689], [23.22, 7.696], [22.96, 7.698], [23.17, 7.682], [23.13, 7.669], [22.88, 7.669], [23.04, 7.645], [22.88, 7.617], [23.08, 7.615], [22.88, 7.598], [22.84, 7.669], [23.14, 7.683], [25.19, 7.956], [25.54, 7.951], [25.78, 7.962], [25.68, 7.94], [25.06, 7.94], [25.15, 7.927], [26.46, 7.842], [26.52, 7.766], [26.44, 7.757], [26.44, 7.745], [26.44, 7.73], [25.05, 7.745], [25.54, 7.73], [25.35, 7.726], [25.35, 7.707], [23.84, 7.714], [32.24, 7.709], [31.88, 8.13], [29.74, 8.022], [30.0, 8.026], [30.23, 8.029], [29.87, 8.006], [30.17, 8.008], [30.43, 8.011], [30.64, 7.985], [30.1, 7.969], [29.9, 7.959], [29.41, 7.945], [31.35, 7.947], [28.5, 7.964], [33.22, 7.985], [34.12, 7.976], [33.53, 8.08]];
const cT102Fill: Col[] = [[23.5, [7.865, 7.84]], [23.7, [7.88, 7.86, 7.84]], [23.9, [7.885, 7.865, 7.84]], [24.05, [7.9, 7.875, 7.85, 7.83]], [23, [7.73, 7.7, 7.68]], [23.2, [7.75, 7.71, 7.7]]];
const cT96: P[] = [[21.07, 7.742], [21.89, 7.71], [21.63, 7.703], [21.54, 7.835], [21.59, 7.806], [21.72, 7.808], [21.72, 7.797], [21.5, 7.788], [21.72, 7.785], [21.59, 7.77], [21.67, 7.759], [21.89, 7.761], [22.26, 7.759], [22.45, 7.766], [22.59, 7.803], [22.57, 7.785], [23.3, 7.803], [23.52, 7.804], [23.73, 7.801], [23.17, 7.788], [23.52, 7.785], [23.82, 7.79], [23.39, 7.774], [23.99, 7.776], [23.65, 7.752], [23.99, 7.761], [23.99, 7.745], [23.73, 7.743], [23.6, 7.73], [23.95, 7.73], [22.32, 7.723], [24.03, 7.721], [22.53, 7.71], [25.23, 7.873], [26.14, 7.899], [26.03, 8.022], [25.28, 8.024], [26.46, 8.0], [25.41, 7.796], [26.55, 7.942], [27.51, 8.037], [27.77, 7.92], [27.73, 7.898], [27.64, 7.889], [27.18, 7.848], [26.31, 7.777], [26.31, 7.808], [26.4, 7.797], [25.36, 7.656], [25.02, 7.687], [25.2, 7.636], [25.24, 7.614], [25.36, 7.657], [27.9, 7.693], [27.77, 7.63], [32.76, 8.274], [36.32, 8.264], [34.85, 8.237], [34.6, 8.223], [34.98, 8.215], [32.8, 8.212], [32.89, 8.197], [33.0, 8.182], [34.22, 8.208], [33.84, 8.197], [32.0, 8.182], [32.48, 8.177], [31.93, 8.145], [33.06, 8.136], [33.71, 8.135], [34.01, 8.146], [34.22, 8.174], [34.33, 8.165], [34.38, 8.151], [33.73, 8.151], [34.61, 8.132], [32.4, 8.12], [32.0, 8.11], [30.39, 8.103], [30.83, 8.093], [31.14, 8.095], [31.29, 8.104], [31.65, 8.105], [30.9, 8.076], [31.24, 8.067], [31.03, 8.057], [31.33, 8.053], [30.61, 8.053], [31.7, 8.07], [31.97, 8.062], [32.26, 8.097], [32.92, 8.117], [33.13, 8.122], [33.35, 8.12], [33.82, 8.113], [34.03, 8.115], [34.46, 8.113], [34.42, 8.103], [33.13, 8.097], [32.96, 8.077], [34.63, 8.074], [33.13, 8.059], [32.49, 8.04], [32.74, 8.037], [33.39, 8.033], [32.57, 8.021], [32.62, 8.012], [33.6, 8.017], [33.86, 8.021], [34.68, 8.047], [34.87, 8.036], [34.63, 8.03], [32.02, 8.05], [29.11, 8.037], [30.04, 8.012], [30.98, 7.996], [31.37, 8.0], [31.74, 7.977], [30.99, 7.965], [29.35, 7.939], [31.16, 7.93], [30.14, 7.902], [32.67, 7.915], [30.9, 7.876], [29.95, 7.873], [33.82, 7.886], [28.45, 7.981], [32.87, 7.981], [32.87, 7.977], [33.69, 7.983], [33.43, 7.974], [33.53, 7.954], [34.44, 7.956], [33.97, 7.943], [33.76, 7.938], [33.58, 7.931], [28.28, 7.92]];
const cT96Fill: Col[] = [[23.3, [7.78, 7.79]], [23.6, [7.795, 7.775, 7.76]], [23.9, [7.77, 7.75]], [23.2, [7.77]], [23.5, [7.765]]];
const cT92: P[] = [[21.07, 7.725], [21.29, 7.73], [21.5, 7.73], [21.07, 7.714], [21.37, 7.712], [21.11, 7.7], [21.29, 7.698], [20.94, 7.698], [21.16, 7.689], [20.99, 7.678], [21.11, 7.671], [21.5, 7.656], [21.07, 7.658], [21.07, 7.683], [20.97, 7.667], [21.23, 7.655], [21.46, 7.655], [21.17, 7.643], [20.97, 7.631], [21.07, 7.608], [21.2, 7.618], [23.1, 7.827], [22.62, 7.747], [24.72, 7.826], [24.76, 7.851], [24.51, 7.868], [24.76, 7.877], [25.12, 7.913], [26.4, 7.965], [28.15, 7.967], [28.33, 7.978], [28.01, 8.027], [25.28, 8.078], [23.07, 7.972], [23.71, 7.976], [24.29, 7.754], [24.38, 7.739], [26.01, 7.735], [26.31, 7.734], [25.92, 7.687], [25.62, 7.676], [25.92, 7.675], [27.64, 7.699], [27.73, 7.761], [27.9, 7.745], [27.85, 7.667], [27.73, 7.658], [28.03, 7.848], [33.65, 8.243], [34.89, 8.203], [35.32, 8.199], [33.22, 8.187], [33.82, 8.21], [34.12, 8.216], [34.69, 8.171], [32.19, 8.082], [34.8, 8.112], [35.06, 8.101], [33.35, 8.097], [34.18, 8.084], [33.13, 8.039], [33.43, 8.046], [32.85, 8.026], [34.03, 8.028], [28.75, 8.048], [31.74, 8.006], [30.24, 7.983], [30.73, 7.947], [31.34, 7.95], [30.36, 7.931], [28.78, 7.916], [28.54, 7.92], [31.41, 7.909], [33.0, 7.958], [35.11, 7.789], [29.34, 7.944], [28.75, 7.918], [21.2, 7.72], [21.2, 7.705], [21.2, 7.69], [21.2, 7.675], [21.2, 7.66], [21.4, 7.72], [21.4, 7.7], [21.4, 7.68], [21.0, 7.71], [21.0, 7.69], [21.0, 7.65]];
const cT895: P[] = [[19.18, 7.727], [19.2, 7.72], [19.01, 7.707], [18.93, 7.702], [18.8, 7.677], [19.01, 7.678], [19.47, 7.667], [18.9, 7.618], [19.06, 7.62], [19.2, 7.563], [19.1, 7.553], [19.3, 7.549], [19.2, 7.543], [22.57, 7.788], [22.66, 7.765], [22.82, 7.875], [22.83, 7.727], [22.66, 7.703], [24.98, 7.901], [25.19, 7.776], [26.52, 7.93], [26.87, 7.931], [26.74, 7.916], [26.61, 7.909], [26.82, 7.902], [26.61, 7.895], [26.78, 7.884], [26.82, 7.873], [26.78, 7.859], [27.04, 7.869], [27.08, 7.837], [27.17, 7.822], [26.99, 7.808], [27.25, 7.797], [26.65, 7.792], [27.17, 7.785], [26.99, 7.776], [27.88, 8.002], [28.09, 8.001], [27.81, 7.938], [27.85, 7.81], [27.9, 7.796], [27.9, 7.782], [27.98, 7.759], [27.84, 7.734], [27.27, 7.745], [27.3, 7.729], [27.87, 7.714], [26.84, 7.7], [26.68, 7.718], [27.84, 7.651], [26.72, 7.628], [24.16, 7.682], [35.41, 8.256], [33.56, 8.147], [32.66, 8.135], [34.29, 8.118], [32.79, 8.1], [32.66, 8.09], [32.68, 8.065], [33.16, 8.071], [34.08, 8.066], [34.76, 8.074], [31.67, 8.041], [31.67, 8.026], [32.06, 8.017], [32.23, 8.053], [31.05, 8.014], [31.11, 7.979], [31.78, 7.961], [30.51, 7.931], [26.7, 7.9], [26.7, 7.875], [26.85, 7.915], [26.85, 7.89], [26.95, 7.86]];
const cTanOver: P[] = [[24.68, 7.767], [24.63, 7.754], [24.68, 7.739], [24.68, 7.725], [24.72, 7.714], [24.76, 7.703], [24.59, 7.692], [24.72, 7.678], [24.72, 7.665], [24.76, 7.656], [24.03, 7.671], [24.32, 7.677], [24.12, 7.662], [23.51, 7.647], [24.02, 7.636], [24.28, 7.617], [24.22, 7.604], [24.28, 7.588], [24.73, 7.63], [25.07, 7.6], [24.72, 7.785], [22.57, 7.694], [32.36, 8.11], [33.52, 8.11], [33.95, 8.091], [33.77, 8.077]];

const seriesA: [number, P[]][] = [
  [2.2, [...aMidMedium, ...expand(aMidMediumFill)]], [3.8, [...aMidLight, ...expand(aMidLightFill)]], [4.2, [...aLeft, ...expand(aLeftFill)]],
  [6.5, [...aGreyMid, ...expand(aGreyFill)]], [5.5, aGreyLow], [2.8, [...aSpike, ...expand(aSpikeFill)]], [-0.05, [...aLowerBand, ...expand(aLowerFill)]],
  [-0.45, [...aUpperRight, ...expand(aUpperFill)]], [-0.6, [...aChain, ...expand(aChainFill)]], [-0.9, [...aCluster, ...expand(aClusterFill)]], [-1.4, [...aDark, ...expand(aDarkFill)]],
];
const seriesB: [number, P[]][] = [
  [-1.15, expand(bSpikeCols)], [-1.6, bLeftDots], [-0.7, expand(bCol32)], [-1.1, expand(bColTop32)], [-1.65, expand(bBandCols)], [-1.7, expand(bStreamCols)],
  [-1.7, bIslands], [-1.5, expand(bBigCols)], [-1.15, bMidDark], [-0.7, expand(bPatchCols)], [0.35, [...bLight, ...expand(bLightCols)]],
];
const seriesC: [number, P[]][] = [
  [7, [...cT7, ...expand(cT7Fill)]], [5, [...cT5, ...expand(cT5Fill)]], [8.6, cTanUnder], [4.1, [...cT4, ...expand(cT4Fill)]], [3.3, [...cT33, ...expand(cT33Fill)]], [2.7, cT27], [2, cT2], [1.1, cT1], [0, cT0],
  [8.95, cT895], [9.2, cT92], [10.2, [...cT102, ...expand(cT102Fill)]], [9.6, [...cT96, ...expand(cT96Fill)]], [10.7, cT107], [11.4, cT115], [8.65, cTanOver],
];

const color = d3.scaleLinear<string>().domain(cmapTemps).range(cmapColors).interpolate(d3.interpolateRgb);
const INK = "#333333";
const SANS = "'Liberation Sans', Arial, sans-serif";
const SERIF = "'Liberation Serif', 'Times New Roman', serif";
const L = 177.5, R = 1148.5, H = 987.7, PHMIN = 7.379, PHMAX = 8.449;

function Panel({ id, top, dom, ticks, series, curve, letter, letterY, title, titleY }: any) {
  const x = d3.scaleLinear().domain(dom).range([L, R]);
  const y = d3.scaleLinear().domain([PHMIN, PHMAX]).range([top + H, top]);
  const line = d3.line<P>().x(d => x(d[0])).y(d => y(d[1])).curve(d3.curveCatmullRom);
  return (
    <g>
      <clipPath id={id}><rect x={L} y={top} width={R - L} height={H} /></clipPath>
      <g>
        {series.map(([t, pts]: [number, P[]], i: number) => (
          <g key={i} fill={color(t)}>
            {pts.map((p, j) => <circle key={j} cx={x(p[0])} cy={y(p[1])} r={8.6} />)}
          </g>
        ))}
      </g>
      {curve && <path d={line(curve) as string} fill="none" stroke="#000" strokeWidth={1.8} clipPath={`url(#${id})`} />}
      <line x1={L} x2={L} y1={top} y2={top + H} stroke={INK} strokeWidth={2} />
      <line x1={L - 1} x2={R} y1={top + H} y2={top + H} stroke={INK} strokeWidth={2} />
      {phTicks.map(t => (
        <g key={t}>
          <line x1={L} x2={L + 11} y1={y(t)} y2={y(t)} stroke={INK} strokeWidth={1.5} />
          <text x={161} y={y(t) + 14} textAnchor="end" fontFamily={SANS} fontSize={40} fill={INK}>{t}</text>
        </g>
      ))}
      {ticks.map((t: number) => (
        <g key={t}>
          <line x1={x(t)} x2={x(t)} y1={top + H} y2={top + H - 12} stroke={INK} strokeWidth={1.5} />
          <text x={x(t)} y={top + H + 59} textAnchor="middle" fontFamily={SANS} fontSize={40} fill={INK}>{t}</text>
        </g>
      ))}
      <text transform={`translate(63,${top + 535}) rotate(-90)`} fontFamily={SANS} fontSize={44} fill={INK}>pH</text>
      <text transform={`translate(83,${top + 482}) rotate(-90)`} fontFamily={SANS} fontSize={38} fill={INK}>T</text>
      <text x={15} y={letterY} fontFamily={SANS} fontSize={48} fill="#222">{letter}</text>
      <text x={1100} y={titleY} textAnchor="end" fontFamily={SANS} fontSize={36.5} fill="#111">{title}</text>
    </g>
  );
}

function Equation({ x0, y0, r2, rx, r2y }: { x0: number; y0: number; r2: string; rx: number; r2y: number }) {
  const f = { fontFamily: SERIF, fill: "#111" };
  return (
    <g {...f}>
      <text x={x0} y={y0} fontSize={40} xmlSpace="preserve">y ~ int + x</text>
      <text x={x0 + 170} y={y0 + 12} fontSize={31}>1</text>
      <text x={x0 + 201} y={y0} fontSize={40} xmlSpace="preserve">+ x</text>
      <text x={x0 + 248} y={y0 - 18} fontSize={31}>2</text>
      <text x={x0 + 248} y={y0 + 12} fontSize={31}>2</text>
      <text x={rx} y={r2y} fontSize={40}>R</text>
      <text x={rx + 31} y={r2y - 18} fontSize={31}>2</text>
      <text x={rx + 48} y={r2y} fontSize={40} xmlSpace="preserve">: {r2}</text>
    </g>
  );
}

function Colorbar() {
  const X0 = 1226, X1 = 1300;
  const y = d3.scaleLinear().domain([-2.5, 12.5]).range([3046.6, 181]);
  const steps = d3.range(-2.5, 12.5, 0.04);
  return (
    <g>
      {steps.map(t => (
        <rect key={t} x={X0} width={X1 - X0} y={y(t + 0.04)} height={y(t) - y(t + 0.04) + 0.6} fill={color(t + 0.02)} />
      ))}
      <line x1={X0} x2={X0} y1={181} y2={3046.6} stroke="#444" strokeWidth={2.5} />
      <line x1={X1} x2={X1} y1={181} y2={3046.6} stroke="#444" strokeWidth={2.5} />
      {cbTicks.map(t => (
        <g key={t}>
          <line x1={X1 - 29} x2={X1} y1={y(t)} y2={y(t)} stroke={INK} strokeWidth={1.5} />
          <text x={1317} y={y(t) + 14} fontFamily={SANS} fontSize={39} fill={INK}>{t}</text>
        </g>
      ))}
      <text transform="translate(1419,1767) rotate(-90)" fontFamily={SANS} fontSize={42} fill={INK}>Temperature °C</text>
    </g>
  );
}

export default function App() {
  return (
    <svg width={1450} height={3299} viewBox="0 0 1450 3299" style={{ position: "absolute", left: 0, top: 0, display: "block", background: "#fff" }}>
      <Panel id="pa" top={19} dom={[5, 32]} ticks={xTicksA} series={seriesA} letter="(a)" letterY={80} title="Open 2018" titleY={97} />
      <Panel id="pb" top={1093.5} dom={[25, 40]} ticks={xTicksB} series={seriesB} curve={curveB} letter="(b)" letterY={1137} title="Closed 2018 – 2019" titleY={1173} />
      <Panel id="pc" top={2163.6} dom={[15, 40]} ticks={xTicksC} series={seriesC} curve={curveC} letter="(c)" letterY={2203} title="Open 2019" titleY={2244} />
      <Equation x0={243} y0={1981} r2="0.69" rx={306} r2y={2052} />
      <Equation x0={824} y0={3052} r2="0.656" rx={916} r2y={3122} />
      <text x={663} y={3272} textAnchor="middle" fontFamily={SANS} fontSize={45} fill={INK}>Salinity</text>
      <Colorbar />
    </svg>
  );
}
